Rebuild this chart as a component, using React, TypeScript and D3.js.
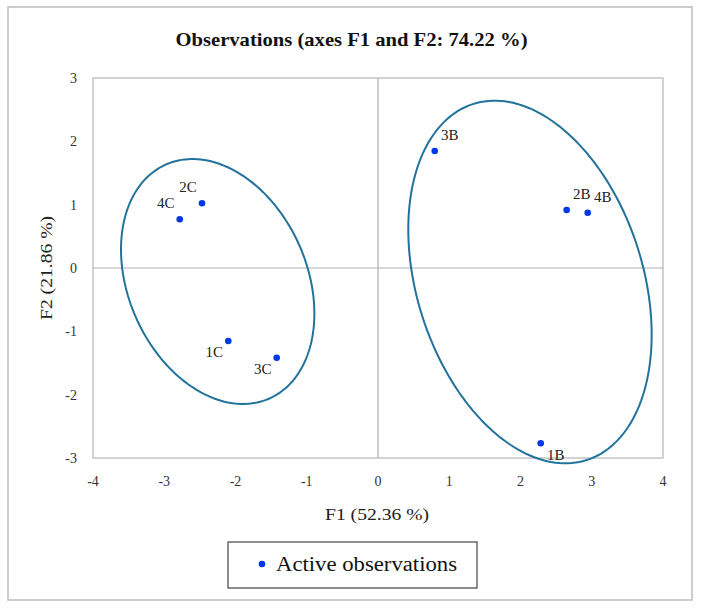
import React from "react";
import * as d3 from "d3";

const obsNames = ["1B", "2B", "3B", "4B", "1C", "2C", "3C", "4C"];
const obsF1 = [2.284, 2.648, 0.796, 2.943, -2.101, -2.47, -1.422, -2.783];
const obsF2 = [-2.768, 0.916, 1.847, 0.873, -1.153, 1.022, -1.416, 0.769];
const labelSide = ["lr", "ur", "ur", "ur", "ll", "ul", "ll", "ul"];

// confidence ellipses (data units): centre, x-extent, y-extent, covariance
const ellCx = [2.133, -2.25];
const ellCy = [-0.221, -0.213];
const ellSx = [1.708, 1.357];
const ellSy = [2.863, 1.934];
const ellCov = [-1.418, -0.687];

const xTicks = [-4, -3, -2, -1, 0, 1, 2, 3, 4];
const yTicks = [-3, -2, -1, 0, 1, 2, 3];

const title = "Observations (axes F1 and F2: 74.22 %)";
const xTitle = "F1 (52.36 %)";
const yTitle = "F2 (21.86 %)";
const legendLabel = "Active observations";

export default function App() {
  const W = 703, H = 608;
  const left = 93, right = 663, top = 78, bottom = 458;
  const x = d3.scaleLinear().domain([-4, 4]).range([left, right]);
  const y = d3.scaleLinear().domain([-3, 3]).range([bottom, top]);
  const font = "'Liberation Serif', 'DejaVu Serif', serif";

  const ellipses = ellCx.map((cx, i) => {
    const sx = ellSx[i], sy = ellSy[i], c = ellCov[i];
    const k = c / sx;
    const m = Math.sqrt(sy * sy - k * k);
    const pts: [number, number][] = d3.range(0, 361, 2).map((deg) => {
      const t = (deg * Math.PI) / 180;
      return [cx + sx * Math.cos(t), ellCy[i] + k * Math.cos(t) + m * Math.sin(t)];
    });
    const line = d3.line<[number, number]>().x((p) => x(p[0])).y((p) => y(p[1])).curve(d3.curveLinearClosed);
    return line(pts) || "";
  });

  const off: Record<string, [number, number]> = {
    ul: [-14, -16], ll: [-14, 11], ur: [15, -16], lr: [15, 12],
  };

  return (
    <svg width={W} height={H} style={{ position: "absolute", left: 0, top: 0 }} fontFamily={font}>
      <rect x={0} y={0} width={W} height={H} fill="#fff" />
      <rect x={8} y={7} width={684} height={593} fill="#fff" stroke="#bdbdbd" strokeWidth={1.5} />
      <text x={351.5} y={46} textAnchor="middle" fontWeight="bold" fontSize={19} fill="#111" textLength={352} lengthAdjust="spacingAndGlyphs">{title}</text>
      <rect x={left} y={top} width={right - left} height={bottom - top} fill="none" stroke="#c4c4c4" strokeWidth={1.5} />
      <line x1={x(0)} x2={x(0)} y1={top} y2={bottom} stroke="#b0b0b0" strokeWidth={1.2} />
      <line x1={left} x2={right} y1={y(0)} y2={y(0)} stroke="#b0b0b0" strokeWidth={1.2} />
      {xTicks.map((t) => (
        <text key={"x" + t} x={x(t)} y={486} textAnchor="middle" fontSize={14} fill="#333">{t}</text>
      ))}
      {yTicks.map((t) => (
        <text key={"y" + t} x={77} y={y(t) + 5} textAnchor="end" fontSize={14} fill="#333">{t}</text>
      ))}
      <text x={377} y={520} textAnchor="middle" fontSize={17} fill="#222" textLength={104} lengthAdjust="spacingAndGlyphs">{xTitle}</text>
      <text transform={`translate(52,268) rotate(-90)`} textAnchor="middle" fontSize={17} fill="#222" textLength={104} lengthAdjust="spacingAndGlyphs">{yTitle}</text>
      {ellipses.map((d, i) => (
        <path key={"e" + i} d={d} fill="none" stroke="#22729c" strokeWidth={2} />
      ))}
      {obsNames.map((n, i) => (
        <g key={n}>
          <circle cx={x(obsF1[i])} cy={y(obsF2[i])} r={3.3} fill="#0038e8" />
          <text x={x(obsF1[i]) + off[labelSide[i]][0]} y={y(obsF2[i]) + off[labelSide[i]][1] + 5} textAnchor="middle" fontSize={15} fill="#222">{n}</text>
        </g>
      ))}
      <rect x={228} y={542} width={249} height={46} fill="#fff" stroke="#444" strokeWidth={1.2} />
      <circle cx={262} cy={564} r={3.3} fill="#0038e8" />
      <text x={276} y={571} fontSize={20} fill="#111" textLength={181} lengthAdjust="spacingAndGlyphs">{legendLabel}</text>
    </svg>
  );
}
